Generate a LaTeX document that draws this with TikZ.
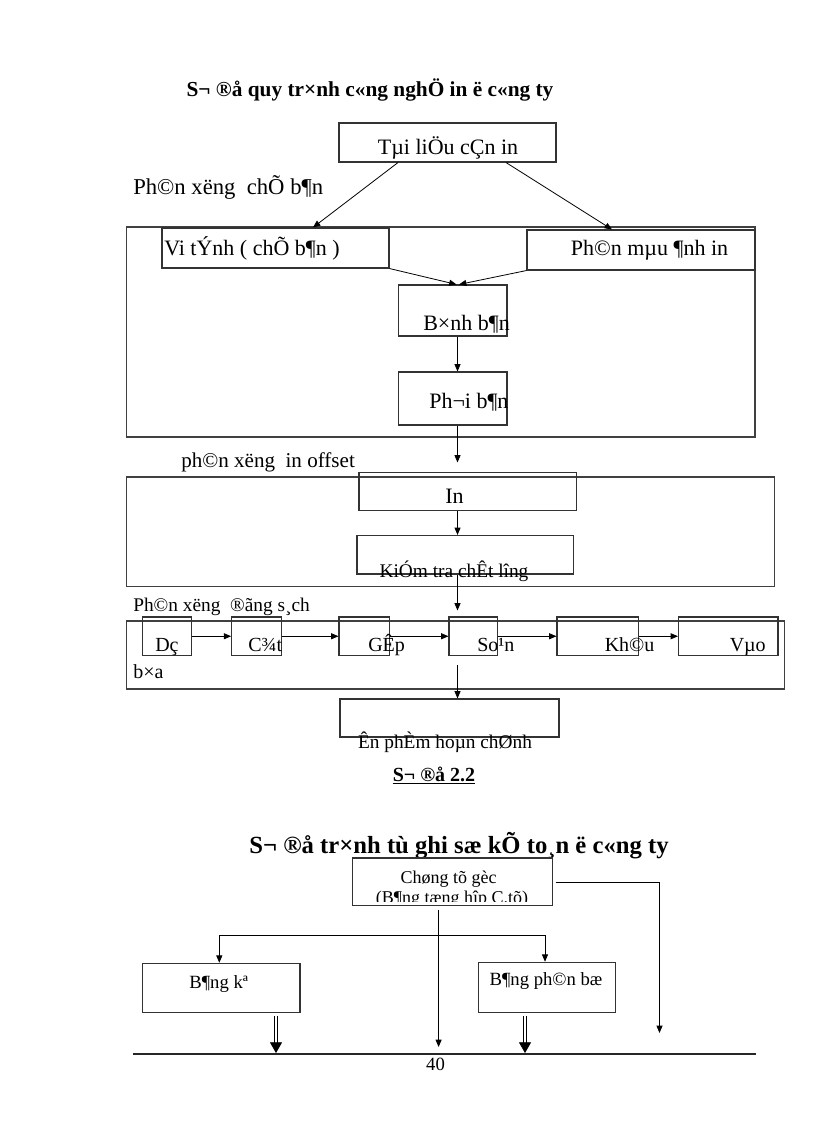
\documentclass[tikz,border=0pt]{standalone}
\usepackage{fontspec}
\setmainfont{Liberation Serif}
\usetikzlibrary{arrows.meta,fit}
\newcommand\fBody{\fontsize{16.5}{19}\selectfont}
\newcommand\fMid{\fontsize{14.5}{17}\selectfont}
\newcommand\fRow{\fontsize{15}{18}\selectfont}
\newcommand\fSmall{\fontsize{13.5}{16}\selectfont}
\newcommand\fBot{\fontsize{14}{17}\selectfont}
\begin{document}
\begin{tikzpicture}[x=0.75pt,y=-0.75pt,
  box/.style={draw=black!80,line width=0.8pt,inner sep=0pt,fit={#1}},
  frame/.style={draw=black!75,line width=1pt,inner sep=0pt,fit={#1}},
  tb/.style={inner sep=0pt,anchor=base},
  tw/.style={inner sep=0pt,anchor=base west},
  arr/.style={draw=black,line width=0.6pt,-{Triangle[length=5.5pt,width=4.5pt]}},
  ln/.style={draw=black,line width=0.6pt},
  dbl/.style={draw=black,line width=0.5pt,double,double distance=1.6pt,-{Triangle[length=8pt,width=9pt]}}
]
\fill[white] (0,0) rectangle (816,1123);
\useasboundingbox (0,0) rectangle (816,1123);

% ---------- Title 1 ----------
\node[tb,font=\fontsize{16}{19}\bfseries] (t1) at (370,96.5) {S¬ ®å quy tr×nh\ c«ng nghÖ in ë c«ng ty};

% ---------- Section 1 ----------
\node[box={(339,123)(556,162)}] (tai) {};
\node[tb,font=\fBody] (taiT) at (448,154.5) {Tµi liÖu cÇn in};
\node[tw,font=\fontsize{17}{20}\selectfont] (lab1) at (133,195) {Ph©n xëng\ \ chÕ b¶n};
\node[frame={(126.5,227)(755,437)}] (fr1) {};
\node[box={(162,228)(389,268)}] (vit) {};
\node[tw,font=\fBody] (vitT) at (164,255) {Vi tÝnh ( chÕ b¶n )};
\node[box={(527,230)(755,270)}] (pmau) {};
\node[tb,font=\fBody] (pmauT) at (649.5,255) {Ph©n mµu ¶nh in};
\node[box={(398.6,285)(507,336)}] (bin) {};
\node[tw,font=\fBody] (binT) at (423,330) {B×nh b¶n};
\node[box={(398.6,372)(507,425)}] (phoi) {};
\node[tw,font=\fBody] (phoiT) at (429,408.5) {Ph¬i b¶n};

\draw[arr] (398,0 |- tai.south) -- (313,0 |- vit.north);
\draw[arr] (506,0 |- tai.south) -- (612,0 |- pmau.north);
\draw[arr] (vit.south east) -- (456.5,0 |- bin.north);
\draw[arr] (pmau.south west) -- (459,0 |- bin.north);
\draw[arr] (457.5,0 |- bin.south) -- (457.5,0 |- phoi.north);
\coordinate (a1) at (457.5,462.5);
\draw[arr] (457.5,0 |- phoi.south) -- (a1);

% ---------- Section 2 ----------
\node[tw,font=\fontsize{15.8}{19}\selectfont] (lab2) at (181,467) {ph©n xëng\ \ in offset};
\node[frame={(126.5,477)(774.5,586.5)}] (fr2) {};
\node[box={(359,472.3)(576.6,510.7)}] (inb) {};
\node[tb,font=\fBody] (inT) at (454.5,503.3) {In};
\node[box={(357,535.5)(573.5,574)}] (kiem) {};
\node[tb,font=\fMid] (kiemT) at (454,577) {KiÓm tra chÊt lîng};
\draw[arr] (457.5,0 |- inb.south) -- (457.5,0 |- kiem.north);
\coordinate (a2) at (457.5,610.5);
\draw[arr] (457.5,0 |- kiem.south) -- (a2);

% ---------- Section 3 ----------
\node[tw,font=\fMid] (lab3) at (133,611) {Ph©n xëng\ \ ®ãng s¸ch};
\node[frame={(126.7,621)(784.7,689)}] (fr3) {};
\node[tw,font=\fRow] (lab3b) at (133,678.5) {b×a};
\node[box={(142.7,617)(191.7,655.5)}] (dc) {};
\node[tw,font=\fRow] (dcT) at (155,651.5) {Dç};
\node[box={(231.7,617)(281.7,655.5)}] (cat) {};
\node[tw,font=\fRow] (catT) at (248,651.5) {C¾t};
\node[box={(339,617)(389.3,655.5)}] (gap) {};
\node[tw,font=\fRow] (gapT) at (368,651.5) {GÊp};
\node[box={(449,617)(497.5,655.5)}] (soan) {};
\node[tw,font=\fRow] (soanT) at (477,651.5) {So¹n};
\node[box={(557,617)(638.7,655.5)}] (khau) {};
\node[tw,font=\fRow] (khauT) at (604.5,651.5) {Kh©u};
\node[box={(678.5,617)(778,655.5)}] (vao) {};
\node[tw,font=\fRow] (vaoT) at (729.5,651.5) {Vµo};
\draw[arr] (dc.east) -- (cat.west);
\draw[arr] (cat.east) -- (gap.west);
\draw[arr] (gap.east) -- (soan.west);
\draw[arr] (soan.east) -- (khau.west);
\draw[arr] (khau.east) -- (vao.west);

\coordinate (a3) at (457.5,665);
\node[box={(340,699)(559,737)}] (enp) {};
\node[tb,font=\fMid] (enpT) at (445,748) {Ên phÈm hoµn chØnh};
\draw[arr] (a3) -- (457.5,0 |- enp.north);

\node[tb,font=\fontsize{15}{18}\bfseries] (s22) at (434,781.5) {\underline{S¬ ®å 2.2}};

% ---------- Chart 2 ----------
\node[tb,font=\fontsize{18.5}{22}\bfseries] (t2) at (459,853.3) {S¬ ®å tr×nh tù ghi sæ kÕ to¸n ë c«ng ty};
\node[box={(352.5,858)(552.5,905.5)}] (cht) {};
\begin{scope}
\clip (353.5,859) rectangle (551.5,901);
\node[tb,font=\fSmall] (chtT1) at (448.5,883) {Chøng tõ gèc};
\node[tb,font=\fSmall] (chtT2) at (452,903) {(B¶ng tæng hîp C.tõ)};
\end{scope}

\coordinate (r1) at (555.6,882.3);
\coordinate (r2) at (659.5,882.3);
\coordinate (r3) at (659.5,1033);
\draw[arr] (r1) -- (r2) -- (r3);

\coordinate (m1) at (438.6,910);
\coordinate (m2) at (438.6,1047);
\draw[arr] (m1) -- (m2);

\node[box={(142.3,963.3)(300,1012.3)}] (bk) {};
\node[tb,font=\fBot] (bkT) at (218.7,988.3) {B¶ng kª};
\node[box={(478.6,962.3)(615.8,1012.3)}] (bpb) {};
\node[tb,font=\fBot] (bpbT) at (546,985) {B¶ng ph©n bæ};

\coordinate (b1) at (219.3,935);
\coordinate (b2) at (545,935);
\draw[arr] (b2) -- (b1) -- (219.3,0 |- bk.north);
\draw[arr] (b2) -- (545,0 |- bpb.north);

\coordinate (bl1) at (132.7,1054);
\coordinate (bl2) at (755.5,1054);
\draw[draw=black!85,line width=0.9pt] (bl1) -- (bl2);

\coordinate (d1s) at (276,1015.7);
\coordinate (d1e) at (276,1053);
\coordinate (d2s) at (525,1015.7);
\coordinate (d2e) at (525,1053);
\draw[dbl] (d1s) -- (d1e);
\draw[dbl] (d2s) -- (d2e);

\node[tb,font=\fBot] (pg) at (435.5,1070) {40};
\end{tikzpicture}
\end{document}
